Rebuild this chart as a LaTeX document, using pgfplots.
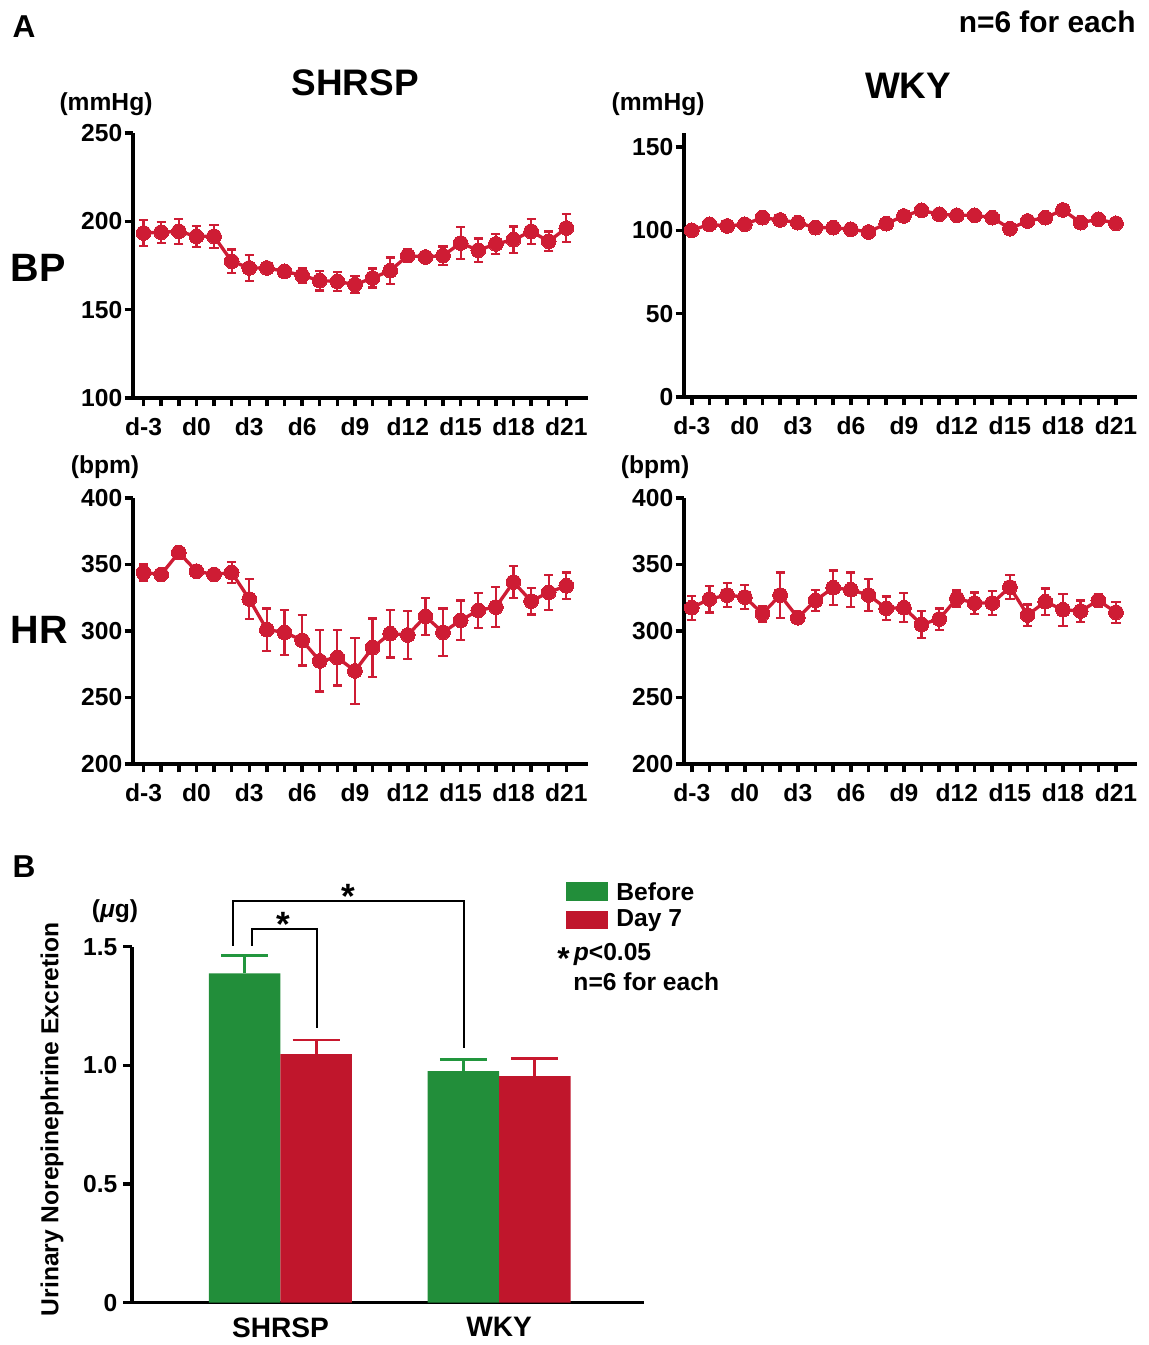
\documentclass[border=0pt]{standalone}
\usepackage{fontspec}
\setmainfont{Liberation Sans}
\usepackage{pgfplots}
\usepackage{pgfplotstable}
\pgfplotsset{compat=1.18}

\definecolor{ptred}{RGB}{206,28,52}
\definecolor{gfill}{RGB}{34,142,58}
\definecolor{gbar}{RGB}{34,150,62}
\definecolor{rfill}{RGB}{192,22,44}
\definecolor{rbar}{RGB}{200,24,46}

\newcommand{\fs}[1]{\fontsize{#1}{#1}\selectfont\bfseries}

% blood pressure, SHRSP (day, mean, SEM)
\pgfplotstableread{
x y e
-3 193.4 7.3
-2 193.8 6
-1 194.3 7
0 191.5 6
1 191.5 6.5
2 177.4 6.6
3 173.6 7.5
4 173.6 2
5 171.7 2
6 169.4 4
7 166.4 5.5
8 166.0 5.5
9 164.2 4.7
10 167.9 5.4
11 172.1 7.5
12 180.6 3.5
13 179.8 2
14 180.6 5.2
15 187.7 9
16 183.6 6.6
17 187.2 5.8
18 189.6 7.5
19 194.3 7
20 188.7 5.5
21 196.2 8
}\bpshr

% blood pressure, WKY
\pgfplotstableread{
x y e
-3 100 2
-2 103.6 2
-1 102.6 2
0 103.6 2
1 107.6 2
2 106.2 2
3 104.6 2
4 101.6 2
5 101.6 2
6 100.6 2
7 99 2
8 104 2
9 108.6 2
10 112 2
11 109.6 2
12 109 2
13 109 2
14 107.6 2
15 101 2
16 105.6 2
17 107.6 2
18 112.2 2
19 104.6 2
20 106.6 2
21 104.2 2
}\bpwky

% heart rate, SHRSP
\pgfplotstableread{
x y e
-3 344 6
-2 342.5 4
-1 359 4
0 345 4
1 342.5 3
2 344 8
3 324 15
4 301 16
5 299 17
6 293 19
7 277.5 23
8 280 21
9 270 25
10 287.5 22
11 298 18
12 297 18
13 311 14
14 299 18
15 308 15
16 315.5 13
17 318 15
18 336.8 12
19 322.5 10
20 329 13
21 334 10
}\hrshr

% heart rate, WKY
\pgfplotstableread{
x y e
-3 317.5 9
-2 324 10
-1 327 9
0 325.5 9
1 313 6
2 327 17
3 310 3
4 323 8
5 332.5 13
6 331 13
7 327 12
8 317 9
9 317.5 11
10 305 10
11 309 8
12 324.5 6
13 321 8
14 321 9
15 333 9
16 312 8
17 322 10
18 316 12
19 315 8
20 323 5
21 314 8
}\hrwky

\pgfplotsset{
  panel/.style={scale only axis, anchor=south west,
    axis lines=left, axis line style={-, line width=2pt},
    tick align=outside, major tick length=0.17cm,
    tick style={line width=2pt, black},
    tick label style={font=\fs{14}},
    xticklabel style={yshift=-0.1cm},
    yticklabel style={xshift=0.08cm},
    /pgf/number format/assume math mode=true,
    xtick={-3,...,21},
    xticklabels={d-3,,,d0,,,d3,,,d6,,,d9,,,d12,,,d15,,,d18,,,d21},
    clip=false},
  series/.style={color=ptred, line width=1.9pt, mark=*, mark size=4.2pt,
    mark options={fill=ptred, draw=ptred, line width=0pt},
    error bars/.cd, y dir=both, y explicit,
    error bar style={line width=1.3pt, ptred},
    error mark options={rotate=90, line width=1.3pt, ptred, mark size=2.6pt}},
}

\begin{document}
\begin{tikzpicture}
\path (0,0) rectangle (22.98,26.9);

% A: BP, SHRSP
\begin{axis}[panel, at={(2.66cm,18.94cm)}, width=9.10cm, height=5.30cm,
  xmin=-3.6, xmax=22.23, ymin=100, ymax=250, ytick={100,150,200,250}]
\addplot[series] table[x=x, y=y, y error=e] {\bpshr};
\end{axis}

% A: BP, WKY
\begin{axis}[panel, at={(13.68cm,18.96cm)}, width=9.06cm, height=5.28cm,
  xmin=-3.44, xmax=22.19, ymin=0, ymax=158.4, ytick={0,50,100,150}]
\addplot[series] table[x=x, y=y, y error=e] {\bpwky};
\end{axis}

% A: HR, SHRSP
\begin{axis}[panel, at={(2.66cm,11.62cm)}, width=9.10cm, height=5.32cm,
  xmin=-3.6, xmax=22.23, ymin=200, ymax=400, ytick={200,250,...,400}]
\addplot[series] table[x=x, y=y, y error=e] {\hrshr};
\end{axis}

% A: HR, WKY
\begin{axis}[panel, at={(13.68cm,11.62cm)}, width=9.06cm, height=5.32cm,
  xmin=-3.44, xmax=22.19, ymin=200, ymax=400, ytick={200,250,...,400}]
\addplot[series] table[x=x, y=y, y error=e] {\hrwky};
\end{axis}

% B: urinary norepinephrine
\begin{axis}[scale only axis, anchor=south west, at={(2.64cm,0.846cm)},
  width=10.24cm, height=7.12cm,
  axis lines=left, axis line style={-, line width=2pt},
  tick align=outside, major tick length=0.17cm,
  tick style={line width=2pt, black},
  tick label style={font=\fs{14}},
  xmin=0.321, xmax=2.663, ymin=0, ymax=1.5,
  ytick={0,0.5,1,1.5}, yticklabels={0,0.5,1.0,1.5},
  xtick={1,2}, xticklabels={SHRSP,WKY},
  x tick style={draw=none},
  xticklabel style={font=\fs{16}, inner sep=0pt, yshift=-0.12cm},
  clip=false]
\addplot[ybar, bar width=0.327, bar shift=-0.1635, draw=none, fill=gfill]
  coordinates {(1,1.388) (2,0.976)};
\addplot[ybar, bar width=0.327, bar shift=0.1635, draw=none, fill=rfill]
  coordinates {(1,1.047) (2,0.955)};
\addplot[draw=none, mark=none,
  error bars/.cd, y dir=plus, y explicit,
  error bar style={line width=1.5pt, draw=gbar},
  error mark options={rotate=90, line width=1.5pt, draw=gbar, mark size=0.47cm}]
  coordinates {(0.8365,1.388) +- (0,0.074) (1.8365,0.976) +- (0,0.050)};
\addplot[draw=none, mark=none,
  error bars/.cd, y dir=plus, y explicit,
  error bar style={line width=1.5pt, draw=rbar},
  error mark options={rotate=90, line width=1.5pt, draw=rbar, mark size=0.47cm}]
  coordinates {(1.1635,1.047) +- (0,0.060) (2.1635,0.955) +- (0,0.075)};
% significance brackets
\draw[line width=1.2pt] (axis cs:0.784,1.503) |- (axis cs:1.839,1.693) -- (axis cs:1.839,1.072);
\draw[line width=1.2pt] (axis cs:0.871,1.503) |- (axis cs:1.168,1.573) -- (axis cs:1.168,1.156);
\node[font=\fs{20}, anchor=north, inner sep=0pt] at (axis cs:1.312,1.765) {*};
\node[font=\fs{20}, anchor=north, inner sep=0pt] at (axis cs:1.015,1.645) {*};
\end{axis}

% texts, in pixel units of the reference
\begin{scope}[shift={(0,26.9)}, x=0.02cm, y=-0.02cm]
\node[font=\fs{18}] at (24,27) {A};
\node[font=\fs{18}] at (24,866) {B};
\node[font=\fs{17}] at (1047,22) {n=6 for each};
\node[font=\fs{21}] at (355,83) {SHRSP};
\node[font=\fs{21}] at (908,86) {WKY};
\node[font=\fs{22.5}] at (38,268) {BP};
\node[font=\fs{22.5}] at (39,630) {HR};
\node[font=\fs{14}] at (106,104) {(mmHg)};
\node[font=\fs{14}] at (658,104) {(mmHg)};
\node[font=\fs{14}] at (105,467) {(bpm)};
\node[font=\fs{14}] at (655,467) {(bpm)};
\node[font=\fs{14}] at (115,911) {({\itshape μ}g)};
\node[font=\fs{14}, rotate=90] at (52,1119) {Urinary Norepinephrine Excretion};
% legend
\fill[gfill] (566,882.3) rectangle (607.7,900.7);
\fill[rfill] (566,910.7) rectangle (607.7,929);
\node[font=\fs{14}, anchor=west, inner sep=0pt] at (616,891.5) {Before};
\node[font=\fs{14}, anchor=west, inner sep=0pt] at (616,920) {Day 7};
\node[font=\fs{14}, anchor=west, inner sep=0pt] at (557,956) {{\fontsize{18}{18}\selectfont\raisebox{-0.3em}{*}}\,{\itshape p}<0.05};
\node[font=\fs{14}, anchor=west, inner sep=0pt] at (573,982) {n=6 for each};
\end{scope}
\pgfresetboundingbox
\useasboundingbox (0,0) rectangle (22.98,26.9);
\end{tikzpicture}
\end{document}
